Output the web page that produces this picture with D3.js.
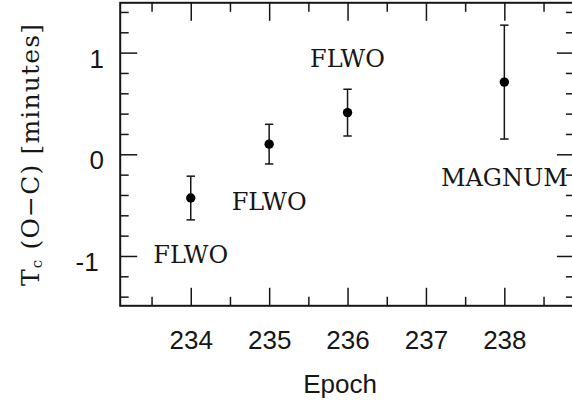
<!DOCTYPE html>
<html><head><meta charset="utf-8">
<script src="https://cdn.jsdelivr.net/npm/d3@7"></script>
<style>body{margin:0;background:#fff}svg{display:block}</style>
</head><body><svg id="c" width="572" height="402"></svg>
<script>
const epochs = [234, 235, 236, 238];
const ocValues = [-0.43, 0.10, 0.41, 0.71];
const ocErrors = [0.215, 0.195, 0.23, 0.56];
const labelTexts = ["FLWO", "FLWO", "FLWO", "MAGNUM"];
const labelEpochs = [234, 235, 236, 238];
const labelValues = [-1.066, -0.548, 0.861, -0.312];
const xMajorTicks = [234, 235, 236, 237, 238];
const xMinorTicks = [233.5, 234.5, 235.5, 236.5, 237.5, 238.5];
const yMajorTicks = [-1, 0, 1];
const yMinorTicks = [-1.4, -1.2, -0.8, -0.6, -0.4, -0.2, 0.2, 0.4, 0.6, 0.8, 1.2, 1.4];
const xTitle = "Epoch";

const svg = d3.select("#c");
const x = d3.scaleLinear().domain([233.1, 238.9]).range([120.2, 574.9]);
const y = d3.scaleLinear().domain([-1.49, 1.49]).range([305.8, 2.8]);
const [x0, x1] = x.range();
const [yb, yt] = y.range();
const MAJ = 18, MIN = 9;
const ink = "#161616";
const sans = "'Liberation Sans', Arial, sans-serif";
const serif = "'DejaVu Serif', serif";
const fmt = d => String(d);

function styleAxis(g) {
  g.select(".domain").remove();
  g.selectAll(".tick line").attr("stroke", ink).attr("stroke-width", 1.5);
}

// Bottom
const gb = svg.append("g").attr("transform", `translate(0,${yb})`)
  .call(d3.axisBottom(x).tickValues(xMajorTicks).tickSize(-MAJ).tickFormat(fmt));
styleAxis(gb);
gb.selectAll("text").attr("y", 43.7).attr("dy", 0)
  .attr("font-family", sans).attr("font-size", 26).attr("fill", ink);
svg.append("g").attr("transform", `translate(0,${yb})`)
  .call(d3.axisBottom(x).tickValues(xMinorTicks).tickSize(-MIN).tickFormat(""))
  .call(styleAxis);
// Top
svg.append("g").attr("transform", `translate(0,${yt})`)
  .call(d3.axisTop(x).tickValues(xMajorTicks).tickSize(-MAJ).tickFormat("")).call(styleAxis);
svg.append("g").attr("transform", `translate(0,${yt})`)
  .call(d3.axisTop(x).tickValues(xMinorTicks).tickSize(-MIN).tickFormat("")).call(styleAxis);
// Left
const gl = svg.append("g").attr("transform", `translate(${x0},0)`)
  .call(d3.axisLeft(y).tickValues(yMajorTicks).tickSize(-17).tickFormat(fmt));
styleAxis(gl);
gl.selectAll("text").attr("x", d => d < 0 ? -21.5 : -16.2).attr("dy", 0).attr("y", 14.5)
  .attr("text-anchor", "end")
  .attr("font-family", sans).attr("font-size", 26).attr("fill", ink);
svg.append("g").attr("transform", `translate(${x0},0)`)
  .call(d3.axisLeft(y).tickValues(yMinorTicks).tickSize(-8.5).tickFormat("")).call(styleAxis);
// Right
svg.append("g").attr("transform", `translate(${x1},0)`)
  .call(d3.axisRight(y).tickValues(yMajorTicks).tickSize(-MAJ).tickFormat("")).call(styleAxis);
svg.append("g").attr("transform", `translate(${x1},0)`)
  .call(d3.axisRight(y).tickValues(yMinorTicks).tickSize(-MIN).tickFormat("")).call(styleAxis);

// Frame
svg.append("rect").attr("x", x0).attr("y", yt).attr("width", x1 - x0).attr("height", yb - yt)
  .attr("fill", "none").attr("stroke", ink).attr("stroke-width", 2);

// Data
const pts = epochs.map((e, i) => ({e, v: ocValues[i], err: ocErrors[i]}));
const eb = svg.append("g").attr("stroke", ink).attr("stroke-width", 1.5);
eb.selectAll(".bar").data(pts).join("line").attr("class", "bar")
  .attr("x1", d => x(d.e)).attr("x2", d => x(d.e))
  .attr("y1", d => y(d.v - d.err)).attr("y2", d => y(d.v + d.err));
eb.selectAll(".capT").data(pts).join("line").attr("class", "capT")
  .attr("x1", d => x(d.e) - 4.2).attr("x2", d => x(d.e) + 4.2)
  .attr("y1", d => y(d.v + d.err)).attr("y2", d => y(d.v + d.err));
eb.selectAll(".capB").data(pts).join("line").attr("class", "capB")
  .attr("x1", d => x(d.e) - 4.2).attr("x2", d => x(d.e) + 4.2)
  .attr("y1", d => y(d.v - d.err)).attr("y2", d => y(d.v - d.err));
svg.append("g").selectAll("circle").data(pts).join("circle")
  .attr("cx", d => x(d.e)).attr("cy", d => y(d.v)).attr("r", 4.7).attr("fill", "#000");

// Annotations
svg.append("g").selectAll("text").data(labelTexts).join("text")
  .attr("x", (t, i) => x(labelEpochs[i])).attr("y", (t, i) => y(labelValues[i]))
  .attr("text-anchor", "middle").attr("font-family", serif).attr("font-size", 24)
  .attr("fill", ink).text(t => t);

// Axis titles
svg.append("text").attr("x", 340).attr("y", 392.5).attr("text-anchor", "middle")
  .attr("font-family", sans).attr("font-size", 26).attr("fill", ink).text(xTitle);

const yt0 = svg.append("text").attr("transform", "translate(38.5,155) rotate(-90)")
  .attr("text-anchor", "middle").attr("font-family", serif).attr("font-size", 25)
  .attr("fill", ink).attr("textLength", 262).attr("lengthAdjust", "spacing");
yt0.append("tspan").text("T");
yt0.append("tspan").attr("dy", 3).attr("font-size", 15).text("c");
yt0.append("tspan").attr("dy", -3).text(" (O\u2212C) [minutes]");
</script></body></html>
